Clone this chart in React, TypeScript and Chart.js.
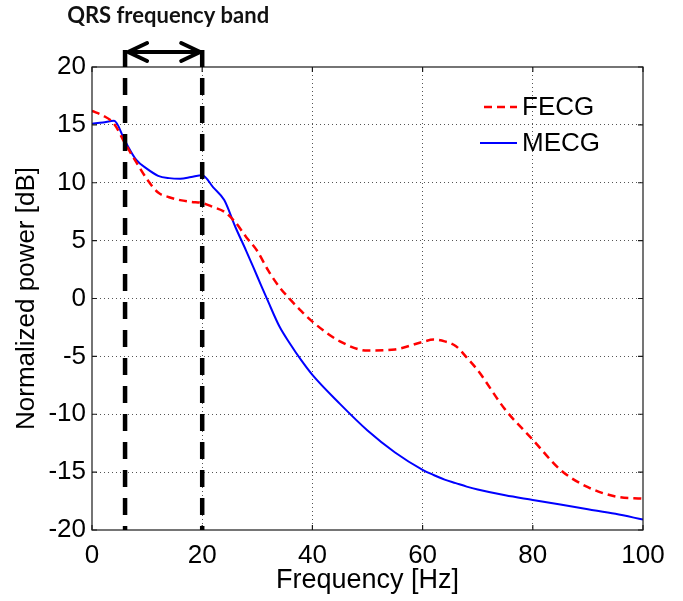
import React, { useEffect, useRef } from "react";
import { Chart, registerables } from "chart.js";

Chart.register(...registerables);

const freqs = [0, 2, 4, 6, 8, 10, 12, 14, 16, 18, 20, 22, 24, 26, 28, 30, 32, 34, 36, 38, 40, 45, 50, 55, 60, 62, 64, 66, 68, 70, 75, 80, 85, 90, 95, 100];
const fecg = [16.2, 15.8, 15.1, 13.4, 11.8, 10.3, 9.15, 8.75, 8.5, 8.35, 8.25, 7.9, 7.5, 6.6, 5.3, 4.1, 2.4, 1.0, -0.1, -1.1, -2.0, -3.7, -4.5, -4.4, -3.75, -3.55, -3.7, -4.1, -5.1, -6.2, -9.6, -12.2, -14.8, -16.3, -17.1, -17.3];
const mecg = [15.1, 15.2, 15.35, 13.6, 12.0, 11.2, 10.6, 10.4, 10.35, 10.5, 10.65, 9.6, 8.5, 6.2, 4.1, 1.9, -0.3, -2.4, -3.95, -5.35, -6.6, -9.1, -11.4, -13.3, -14.8, -15.25, -15.65, -15.95, -16.25, -16.5, -17.0, -17.4, -17.8, -18.2, -18.6, -19.1];
const seriesNames = ["FECG", "MECG"];
const xTickValues = [0, 20, 40, 60, 80, 100];
const yTickValues = [-20, -15, -10, -5, 0, 5, 10, 15, 20];
const qrsBand = [6, 20];
const qrsLabel = "QRS frequency band";
const xTitle = "Frequency [Hz]";
const yTitle = "Normalized power [dB]";

const FONT = "'Liberation Sans', Arial, sans-serif";
const RED = "#ff0000";
const BLUE = "#0000ff";

const decor = {
  id: "decor",
  afterDatasetsDraw(chart: any) {
    const { ctx, chartArea: a, scales } = chart;
    const x = scales.x;
    const y = scales.y;
    ctx.save();

    // box
    ctx.setLineDash([]);
    ctx.strokeStyle = "#1a1a1a";
    ctx.lineWidth = 1.2;
    ctx.strokeRect(a.left, a.top, a.right - a.left, a.bottom - a.top);

    // inner tick marks
    const tl = 5;
    ctx.beginPath();
    xTickValues.forEach((v) => {
      const px = x.getPixelForValue(v);
      ctx.moveTo(px, a.bottom);
      ctx.lineTo(px, a.bottom - tl);
      ctx.moveTo(px, a.top);
      ctx.lineTo(px, a.top + tl);
    });
    yTickValues.forEach((v) => {
      const py = y.getPixelForValue(v);
      ctx.moveTo(a.left, py);
      ctx.lineTo(a.left + tl, py);
      ctx.moveTo(a.right, py);
      ctx.lineTo(a.right - tl, py);
    });
    ctx.stroke();

    // QRS band dashed lines
    const topY = a.top - 17;
    ctx.strokeStyle = "#000";
    ctx.lineWidth = 4.5;
    ctx.setLineDash([17, 11]);
    qrsBand.forEach((f) => {
      const px = x.getPixelForValue(f);
      ctx.beginPath();
      ctx.moveTo(px, topY);
      ctx.lineTo(px, a.bottom);
      ctx.stroke();
    });
    ctx.setLineDash([]);

    // double arrow
    const ay = a.top - 15;
    const x1 = x.getPixelForValue(qrsBand[0]) + 3;
    const x2 = x.getPixelForValue(qrsBand[1]) - 2;
    ctx.lineWidth = 4;
    ctx.lineCap = "round";
    ctx.lineJoin = "round";
    ctx.beginPath();
    ctx.moveTo(x1, ay);
    ctx.lineTo(x2, ay);
    ctx.moveTo(x1 + 19, ay - 9);
    ctx.lineTo(x1, ay);
    ctx.lineTo(x1 + 19, ay + 9);
    ctx.moveTo(x2 - 19, ay - 9);
    ctx.lineTo(x2, ay);
    ctx.lineTo(x2 - 19, ay + 9);
    ctx.stroke();

    // label
    ctx.fillStyle = "#111";
    ctx.font = "bold 22px Lato, 'Open Sans', sans-serif";
    ctx.textAlign = "center";
    ctx.textBaseline = "alphabetic";
    ctx.fillText(qrsLabel, (x1 + x2) / 2 + 4, a.top - 44);

    // legend
    const lx1 = a.right - 163;
    const lx2 = a.right - 126;
    const rows = [a.top + 40, a.top + 76];
    ctx.font = `26px ${FONT}`;
    ctx.textAlign = "left";
    ctx.textBaseline = "middle";
    ctx.lineCap = "butt";
    seriesNames.forEach((name, i) => {
      ctx.strokeStyle = i === 0 ? RED : BLUE;
      ctx.lineWidth = i === 0 ? 2.5 : 2;
      ctx.setLineDash(i === 0 ? [8, 5] : []);
      ctx.beginPath();
      ctx.moveTo(i === 0 ? lx1 + 4 : lx1, rows[i]);
      ctx.lineTo(lx2, rows[i]);
      ctx.stroke();
      ctx.setLineDash([]);
      ctx.fillStyle = "#000";
      ctx.fillText(name, lx2 + 5, rows[i] + 1);
    });

    ctx.restore();
  },
};

export default function App() {
  const ref = useRef<HTMLCanvasElement>(null);
  useEffect(() => {
    if (!ref.current) return;
    const chart = new Chart(ref.current, {
      type: "line",
      data: {
        datasets: [
          {
            label: seriesNames[0],
            data: freqs.map((f, i) => ({ x: f, y: fecg[i] })),
            borderColor: RED,
            borderWidth: 2.5,
            borderDash: [8, 5],
            pointRadius: 0,
            cubicInterpolationMode: "monotone",
            fill: false,
          },
          {
            label: seriesNames[1],
            data: freqs.map((f, i) => ({ x: f, y: mecg[i] })),
            borderColor: BLUE,
            borderWidth: 2,
            pointRadius: 0,
            cubicInterpolationMode: "monotone",
            fill: false,
          },
        ],
      },
      options: {
        responsive: false,
        animation: false,
        devicePixelRatio: 1,
        layout: { padding: { top: 67, right: 40, left: 0, bottom: 0 } },
        plugins: { legend: { display: false }, tooltip: { enabled: false }, title: { display: false } },
        scales: {
          x: {
            type: "linear",
            min: 0,
            max: 100,
            afterFit: (s: any) => { s.height = 71; },
            afterBuildTicks: (s: any) => { s.ticks = xTickValues.map((v) => ({ value: v })); },
            ticks: { font: { family: FONT, size: 26 }, color: "#000", padding: 10, maxRotation: 0 },
            grid: {
              drawTicks: false,
              color: (c: any) => (c.tick && (c.tick.value === 0 || c.tick.value === 100) ? "rgba(0,0,0,0)" : "#555"),
              lineWidth: 1,
            },
            border: { display: false, dash: [1, 3] },
            title: { display: true, text: xTitle, font: { family: FONT, size: 27 }, color: "#000", padding: { top: 0, bottom: 4 } },
          },
          y: {
            type: "linear",
            min: -20,
            max: 20,
            afterFit: (s: any) => { s.width = 92; },
            afterBuildTicks: (s: any) => { s.ticks = yTickValues.map((v) => ({ value: v })); },
            ticks: { font: { family: FONT, size: 26 }, color: "#000", padding: 6 },
            grid: {
              drawTicks: false,
              color: (c: any) => (c.tick && (c.tick.value === -20 || c.tick.value === 20) ? "rgba(0,0,0,0)" : "#555"),
              lineWidth: 1,
            },
            border: { display: false, dash: [1, 3] },
            title: { display: true, text: yTitle, font: { family: FONT, size: 26 }, color: "#000", padding: { top: 11, bottom: 0 } },
          },
        },
      },
      plugins: [decor],
    });
    return () => chart.destroy();
  }, []);
  return (
    <div style={{ position: "absolute", left: 0, top: 0, width: 683, height: 601, background: "#fff" }}>
      <canvas ref={ref} width={683} height={601} />
    </div>
  );
}
